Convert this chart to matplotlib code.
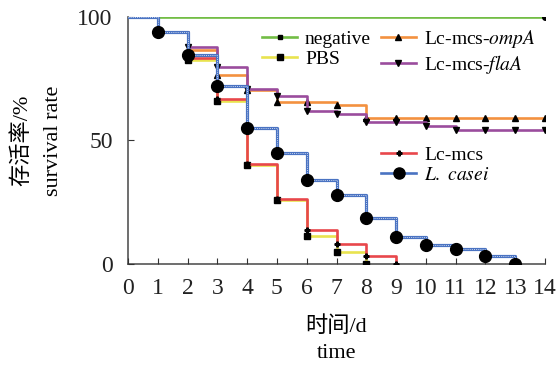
import numpy as np
import matplotlib
matplotlib.use("Agg")
import matplotlib.pyplot as plt
from matplotlib.lines import Line2D

plt.rcParams['font.family'] = ['Liberation Serif', 'Noto Sans CJK SC']
plt.rcParams['mathtext.fontset'] = 'stix'

# survival data (% alive per day)
days = np.arange(0, 15)
negative = [100] * 15
pbs = [100, 93.7, 82.5, 66.0, 39.9, 26.0, 11.4, 5.1, 0]
lc_mcs = [100, 93.7, 83.4, 66.6, 40.5, 26.4, 13.9, 8.1, 3.5, 0]
ompa = [100, 93.7, 86.5, 76.5, 70.5, 65.7, 65.7, 64.3, 59.0, 59.0, 59.0, 59.0, 59.0, 59.0, 59.0]
flaa = [100, 93.7, 87.9, 79.8, 70.7, 68.0, 61.9, 60.6, 57.3, 57.3, 55.9, 54.2, 54.2, 54.2, 54.2]
casei = [100, 93.7, 84.4, 72.0, 55.2, 44.8, 34.0, 28.0, 18.6, 10.9, 7.8, 6.3, 3.4, 0]

xticks = list(range(0, 15))
yticks = [0, 50, 100]

c_green = '#72bd45'
c_yellow = '#e9e34f'
c_orange = '#f3913f'
c_purple = '#9a4c9d'
c_red = '#e8474b'
c_blue = '#4a73c2'

fig = plt.figure(figsize=(5.57, 3.66), dpi=100)
ax = fig.add_axes([0.2298, 0.2779, 0.7487, 0.6765])

lw = 1.9

def km(vals, color, marker, ms, label, every=None, z=2):
    d = days[:len(vals)]
    ax.step(d, vals, where='post', color=color, lw=lw, zorder=z, solid_capstyle='butt')
    idx = list(range(1, len(vals))) if every is None else every
    ax.plot(d[idx], np.array(vals)[idx], ls='none', marker=marker, ms=ms,
            color='black', zorder=z + 0.5)
    return Line2D([], [], color=color, lw=lw, marker=marker, ms=ms,
                  markerfacecolor='black', markeredgecolor='black', label=label)

km(negative, c_green, 'o', 4, 'negative', every=[14], z=1)
h_neg = Line2D([], [], color=c_green, lw=lw, marker='s', ms=3.5,
               markerfacecolor='black', markeredgecolor='black', label='negative')
h_pbs = km(pbs, c_yellow, 's', 5, 'PBS', z=2)
h_omp = km(ompa, c_orange, '^', 4.5, 'Lc-mcs-$\\mathit{ompA}$', z=3)
h_fla = km(flaa, c_purple, 'v', 4.5, 'Lc-mcs-$\\mathit{flaA}$', z=4)
h_red = km(lc_mcs, c_red, 'P', 3.5, 'Lc-mcs', z=5)

# L. casei: blue line with a light dotted texture on top
ax.step(days[:len(casei)], casei, where='post', color=c_blue, lw=lw + 0.4, zorder=6)
ax.step(days[:len(casei)], casei, where='post', color='#c9d6f0', lw=0.7,
        ls=(0, (1, 1.2)), zorder=6.2)
ax.plot(days[1:len(casei)], casei[1:], ls='none', marker='o', ms=8.5,
        color='black', zorder=7)
h_cas = Line2D([], [], color=c_blue, lw=lw, marker='o', ms=8,
               markerfacecolor='black', markeredgecolor='black', label='$\\mathit{L.\\ casei}$')

ax.set_xlim(0, 14)
ax.set_ylim(0, 100)
ax.set_xticks(xticks)
ax.set_yticks(yticks)
ax.tick_params(direction='in', length=4, width=0.8, labelsize=17, colors='#333333',
               labelcolor='#222222')
ax.tick_params(axis='x', pad=10)
ax.tick_params(axis='y', pad=11)
for s in ['top', 'right']:
    ax.spines[s].set_visible(False)
for s in ['left', 'bottom']:
    ax.spines[s].set_color('#555555')
    ax.spines[s].set_linewidth(1.2)
    ax.spines[s].set_zorder(0.5)

ax.set_xlabel('时间/d\ntime', fontsize=16, linespacing=1.5, labelpad=12.5)
ax.set_ylabel('存活率/%\nsurvival rate', fontsize=16, linespacing=1.85, labelpad=10)

leg1 = ax.legend(handles=[h_neg, h_pbs, h_omp, h_fla], ncol=2, loc='upper left',
                 bbox_to_anchor=(0.322, 0.956), frameon=False, fontsize=14,
                 handlelength=1.8, handletextpad=0.4, columnspacing=0.5,
                 labelspacing=0.15, borderpad=0, borderaxespad=0, numpoints=1)
ax.add_artist(leg1)
ax.legend(handles=[h_red, h_cas], loc='upper left', bbox_to_anchor=(0.607, 0.478),
          frameon=False, fontsize=14, handlelength=1.8, handletextpad=0.4,
          labelspacing=0.15, borderpad=0, borderaxespad=0, numpoints=1)

fig.savefig('out.png', dpi=100)
